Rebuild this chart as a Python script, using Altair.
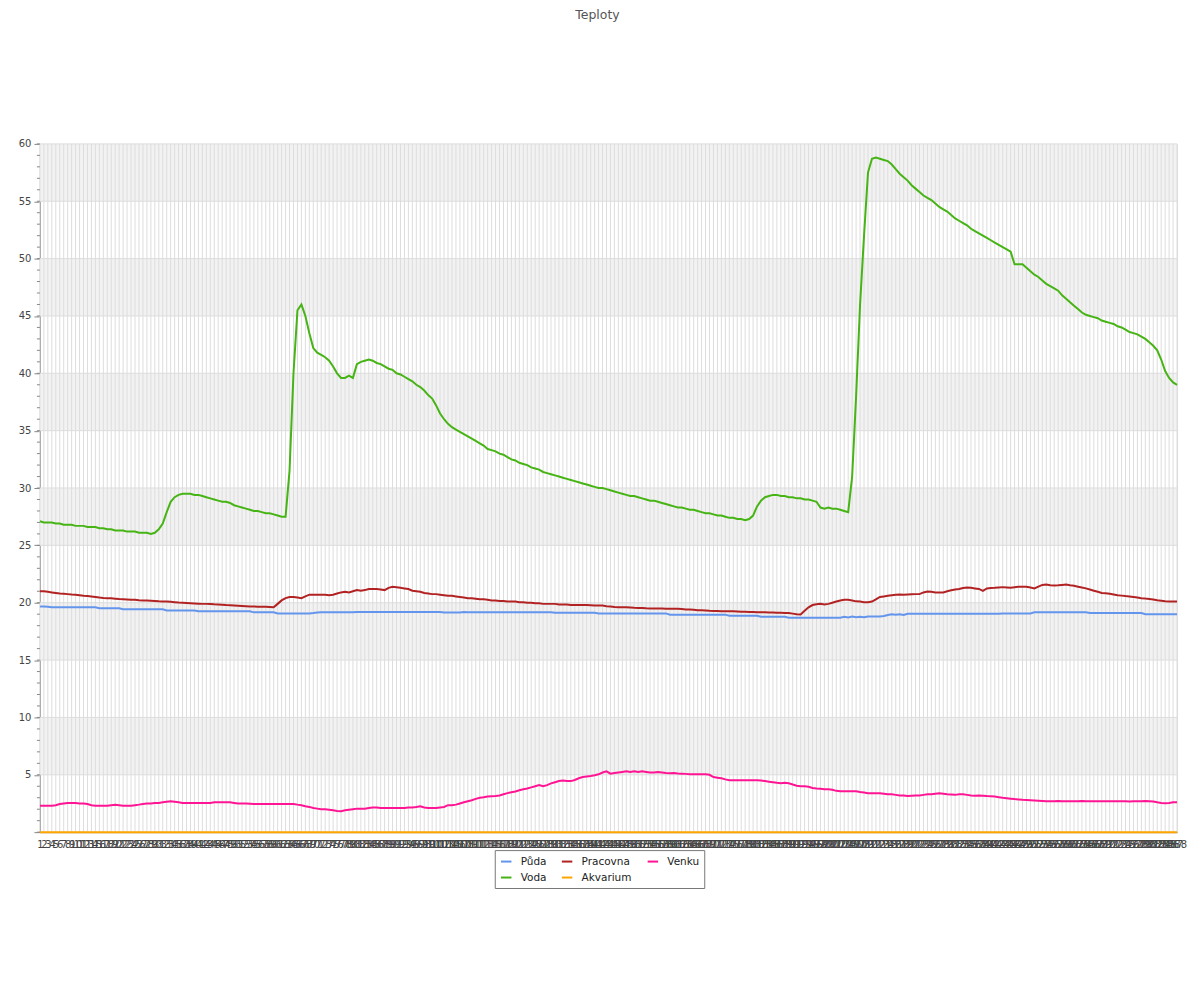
import altair as alt
import pandas as pd

# ---------------- data ----------------
IDX = list(range(1, 289))

PUDA = [
    19.68, 19.68, 19.65, 19.6, 19.6, 19.6, 19.6, 19.6, 19.6, 19.6,
    19.6, 19.6, 19.6, 19.6, 19.6, 19.52, 19.52, 19.52, 19.52, 19.52,
    19.52, 19.43, 19.43, 19.43, 19.43, 19.43, 19.43, 19.43, 19.43, 19.43,
    19.43, 19.43, 19.33, 19.33, 19.33, 19.33, 19.33, 19.33, 19.33, 19.33,
    19.25, 19.25, 19.25, 19.25, 19.25, 19.25, 19.25, 19.25, 19.25, 19.25,
    19.25, 19.25, 19.25, 19.25, 19.16, 19.16, 19.16, 19.16, 19.16, 19.16,
    19.07, 19.07, 19.07, 19.07, 19.07, 19.07, 19.07, 19.07, 19.07, 19.1,
    19.15, 19.16, 19.16, 19.16, 19.16, 19.16, 19.16, 19.16, 19.16, 19.16,
    19.2, 19.2, 19.2, 19.2, 19.2, 19.2, 19.2, 19.2, 19.2, 19.2,
    19.2, 19.2, 19.2, 19.2, 19.2, 19.2, 19.2, 19.2, 19.2, 19.2,
    19.2, 19.2, 19.15, 19.15, 19.15, 19.15, 19.15, 19.2, 19.16, 19.16,
    19.16, 19.16, 19.16, 19.16, 19.16, 19.16, 19.16, 19.16, 19.16, 19.16,
    19.16, 19.16, 19.16, 19.16, 19.16, 19.16, 19.16, 19.16, 19.16, 19.16,
    19.12, 19.12, 19.12, 19.12, 19.12, 19.12, 19.12, 19.12, 19.12, 19.12,
    19.12, 19.07, 19.07, 19.07, 19.07, 19.07, 19.07, 19.07, 19.07, 19.07,
    19.07, 19.07, 19.07, 19.07, 19.07, 19.07, 19.07, 19.07, 19.07, 18.96,
    18.96, 18.96, 18.96, 18.96, 18.96, 18.96, 18.96, 18.96, 18.96, 18.96,
    18.96, 18.96, 18.96, 18.96, 18.87, 18.87, 18.87, 18.87, 18.87, 18.87,
    18.87, 18.87, 18.78, 18.78, 18.78, 18.78, 18.78, 18.78, 18.78, 18.7,
    18.7, 18.7, 18.7, 18.7, 18.7, 18.7, 18.7, 18.7, 18.7, 18.7,
    18.7, 18.7, 18.7, 18.78, 18.72, 18.8, 18.74, 18.78, 18.74, 18.8,
    18.81, 18.81, 18.81, 18.85, 18.93, 19.0, 18.95, 19.0, 18.93, 19.04,
    19.04, 19.04, 19.04, 19.04, 19.04, 19.04, 19.04, 19.04, 19.04, 19.04,
    19.04, 19.04, 19.04, 19.04, 19.04, 19.04, 19.04, 19.04, 19.04, 19.04,
    19.04, 19.04, 19.04, 19.07, 19.07, 19.07, 19.07, 19.07, 19.07, 19.07,
    19.07, 19.16, 19.16, 19.16, 19.16, 19.16, 19.16, 19.16, 19.16, 19.16,
    19.16, 19.16, 19.16, 19.16, 19.16, 19.1, 19.1, 19.1, 19.1, 19.1,
    19.1, 19.1, 19.1, 19.1, 19.1, 19.1, 19.1, 19.1, 19.1, 19.0,
    19.0, 19.0, 19.0, 19.0, 19.0, 19.0, 19.0, 19.0,
]

VODA = [
    27.1, 27.0, 27.0, 27.0, 26.9, 26.9, 26.8, 26.8, 26.8, 26.7,
    26.7, 26.7, 26.6, 26.6, 26.6, 26.5, 26.5, 26.4, 26.4, 26.3,
    26.3, 26.3, 26.2, 26.2, 26.2, 26.1, 26.1, 26.1, 26.0, 26.1,
    26.4, 26.9, 27.9, 28.8, 29.2, 29.4, 29.5, 29.5, 29.5, 29.4,
    29.4, 29.3, 29.2, 29.1, 29.0, 28.9, 28.8, 28.8, 28.7, 28.5,
    28.4, 28.3, 28.2, 28.1, 28.0, 28.0, 27.9, 27.8, 27.8, 27.7,
    27.6, 27.5, 27.5, 31.5, 40.0, 45.5, 46.0, 45.0, 43.5, 42.2,
    41.8, 41.6, 41.4, 41.1, 40.6, 40.0, 39.6, 39.6, 39.8, 39.6,
    40.8, 41.0, 41.1, 41.2, 41.1, 40.9, 40.8, 40.6, 40.4, 40.3,
    40.0, 39.9, 39.7, 39.5, 39.3, 39.0, 38.8, 38.5, 38.1, 37.8,
    37.2, 36.5, 36.0, 35.6, 35.3, 35.1, 34.9, 34.7, 34.5, 34.3,
    34.1, 33.9, 33.7, 33.4, 33.3, 33.2, 33.0, 32.9, 32.7, 32.5,
    32.4, 32.2, 32.1, 32.0, 31.8, 31.7, 31.6, 31.4, 31.3, 31.2,
    31.1, 31.0, 30.9, 30.8, 30.7, 30.6, 30.5, 30.4, 30.3, 30.2,
    30.1, 30.0, 30.0, 29.9, 29.8, 29.7, 29.6, 29.5, 29.4, 29.3,
    29.3, 29.2, 29.1, 29.0, 28.9, 28.9, 28.8, 28.7, 28.6, 28.5,
    28.4, 28.3, 28.3, 28.2, 28.1, 28.1, 28.0, 27.9, 27.8, 27.8,
    27.7, 27.6, 27.6, 27.5, 27.4, 27.4, 27.3, 27.3, 27.2, 27.3,
    27.6, 28.4, 28.9, 29.2, 29.3, 29.4, 29.4, 29.3, 29.3, 29.2,
    29.2, 29.1, 29.1, 29.0, 29.0, 28.9, 28.8, 28.3, 28.2, 28.3,
    28.2, 28.2, 28.1, 28.0, 27.9, 31.0, 38.0, 46.0, 52.0, 57.5,
    58.7, 58.8, 58.7, 58.6, 58.5, 58.2, 57.8, 57.4, 57.1, 56.8,
    56.4, 56.1, 55.8, 55.5, 55.3, 55.1, 54.8, 54.5, 54.3, 54.1,
    53.8, 53.5, 53.3, 53.1, 52.9, 52.6, 52.4, 52.2, 52.0, 51.8,
    51.6, 51.4, 51.2, 51.0, 50.8, 50.6, 49.5, 49.5, 49.5, 49.2,
    48.9, 48.6, 48.4, 48.1, 47.8, 47.6, 47.4, 47.2, 46.8, 46.5,
    46.2, 45.9, 45.6, 45.3, 45.1, 45.0, 44.9, 44.8, 44.6, 44.5,
    44.4, 44.3, 44.1, 44.0, 43.8, 43.6, 43.5, 43.4, 43.2, 43.0,
    42.7, 42.4, 42.0, 41.2, 40.2, 39.6, 39.2, 39.0,
]

PRACOVNA = [
    21.0, 21.0, 20.95, 20.9, 20.85, 20.8, 20.78, 20.75, 20.72, 20.7,
    20.65, 20.6, 20.58, 20.55, 20.5, 20.45, 20.42, 20.4, 20.38, 20.35,
    20.32, 20.3, 20.28, 20.25, 20.25, 20.22, 20.2, 20.2, 20.18, 20.15,
    20.12, 20.1, 20.1, 20.08, 20.05, 20.02, 20.0, 19.98, 19.96, 19.94,
    19.92, 19.9, 19.9, 19.88, 19.86, 19.85, 19.83, 19.8, 19.78, 19.76,
    19.74, 19.72, 19.7, 19.68, 19.68, 19.66, 19.65, 19.64, 19.63, 19.6,
    19.9, 20.2, 20.4, 20.5, 20.5, 20.45, 20.4, 20.55, 20.7, 20.7,
    20.7, 20.7, 20.7, 20.65, 20.7, 20.8, 20.9, 20.95, 20.9, 21.0,
    21.1, 21.05, 21.1, 21.2, 21.2, 21.2, 21.15, 21.1, 21.3, 21.4,
    21.35, 21.3, 21.25, 21.2, 21.05, 21.0, 20.95, 20.85, 20.8, 20.75,
    20.75, 20.7, 20.65, 20.6, 20.6, 20.55, 20.5, 20.45, 20.4, 20.4,
    20.35, 20.3, 20.3, 20.25, 20.2, 20.2, 20.15, 20.15, 20.1, 20.1,
    20.1, 20.05, 20.05, 20.0, 20.0, 19.95, 19.95, 19.9, 19.9, 19.9,
    19.9, 19.85, 19.85, 19.85, 19.8, 19.8, 19.8, 19.8, 19.8, 19.78,
    19.76, 19.76, 19.75, 19.7, 19.68, 19.62, 19.6, 19.6, 19.6, 19.58,
    19.56, 19.55, 19.55, 19.52, 19.5, 19.5, 19.5, 19.5, 19.48, 19.48,
    19.48, 19.48, 19.45, 19.42, 19.4, 19.38, 19.35, 19.35, 19.33, 19.3,
    19.28, 19.27, 19.26, 19.25, 19.25, 19.25, 19.24, 19.22, 19.22, 19.2,
    19.2, 19.18, 19.17, 19.16, 19.15, 19.14, 19.13, 19.12, 19.1, 19.1,
    19.05, 19.0, 18.98, 19.3, 19.6, 19.8, 19.87, 19.9, 19.85, 19.9,
    20.0, 20.1, 20.2, 20.25, 20.26, 20.2, 20.12, 20.1, 20.05, 20.04,
    20.1, 20.3, 20.5, 20.55, 20.6, 20.65, 20.7, 20.72, 20.7, 20.72,
    20.74, 20.75, 20.75, 20.9, 20.98, 20.95, 20.9, 20.9, 20.9, 21.0,
    21.08, 21.15, 21.2, 21.28, 21.33, 21.3, 21.25, 21.2, 21.04, 21.25,
    21.28, 21.3, 21.33, 21.36, 21.33, 21.3, 21.35, 21.4, 21.4, 21.4,
    21.33, 21.25, 21.4, 21.55, 21.58, 21.52, 21.5, 21.52, 21.55, 21.58,
    21.52, 21.48, 21.4, 21.32, 21.25, 21.15, 21.05, 20.95, 20.85, 20.82,
    20.78, 20.72, 20.66, 20.62, 20.58, 20.55, 20.5, 20.45, 20.4, 20.36,
    20.33, 20.28, 20.22, 20.18, 20.12, 20.1, 20.1, 20.1,
]

AKVARIUM = [
    0, 0, 0, 0, 0, 0, 0, 0, 0, 0, 0, 0, 0, 0, 0, 0, 0, 0, 0, 0, 0, 0, 0, 0,
    0, 0, 0, 0, 0, 0, 0, 0, 0, 0, 0, 0, 0, 0, 0, 0, 0, 0, 0, 0, 0, 0, 0, 0,
    0, 0, 0, 0, 0, 0, 0, 0, 0, 0, 0, 0, 0, 0, 0, 0, 0, 0, 0, 0, 0, 0, 0, 0,
    0, 0, 0, 0, 0, 0, 0, 0, 0, 0, 0, 0, 0, 0, 0, 0, 0, 0, 0, 0, 0, 0, 0, 0,
    0, 0, 0, 0, 0, 0, 0, 0, 0, 0, 0, 0, 0, 0, 0, 0, 0, 0, 0, 0, 0, 0, 0, 0,
    0, 0, 0, 0, 0, 0, 0, 0, 0, 0, 0, 0, 0, 0, 0, 0, 0, 0, 0, 0, 0, 0, 0, 0,
    0, 0, 0, 0, 0, 0, 0, 0, 0, 0, 0, 0, 0, 0, 0, 0, 0, 0, 0, 0, 0, 0, 0, 0,
    0, 0, 0, 0, 0, 0, 0, 0, 0, 0, 0, 0, 0, 0, 0, 0, 0, 0, 0, 0, 0, 0, 0, 0,
    0, 0, 0, 0, 0, 0, 0, 0, 0, 0, 0, 0, 0, 0, 0, 0, 0, 0, 0, 0, 0, 0, 0, 0,
    0, 0, 0, 0, 0, 0, 0, 0, 0, 0, 0, 0, 0, 0, 0, 0, 0, 0, 0, 0, 0, 0, 0, 0,
    0, 0, 0, 0, 0, 0, 0, 0, 0, 0, 0, 0, 0, 0, 0, 0, 0, 0, 0, 0, 0, 0, 0, 0,
    0, 0, 0, 0, 0, 0, 0, 0, 0, 0, 0, 0, 0, 0, 0, 0, 0, 0, 0, 0, 0, 0, 0, 0,
]

VENKU = [
    2.3, 2.3, 2.3, 2.3, 2.35, 2.45, 2.5, 2.55, 2.55, 2.55,
    2.5, 2.5, 2.45, 2.35, 2.3, 2.3, 2.3, 2.3, 2.35, 2.38,
    2.35, 2.3, 2.3, 2.3, 2.35, 2.4, 2.46, 2.5, 2.5, 2.55,
    2.55, 2.6, 2.65, 2.7, 2.65, 2.6, 2.55, 2.55, 2.55, 2.55,
    2.55, 2.55, 2.55, 2.55, 2.6, 2.6, 2.6, 2.6, 2.6, 2.55,
    2.5, 2.5, 2.5, 2.48, 2.46, 2.46, 2.46, 2.46, 2.46, 2.46,
    2.46, 2.46, 2.46, 2.46, 2.46, 2.4, 2.35, 2.26, 2.2, 2.1,
    2.05, 2.0, 2.0, 1.95, 1.9, 1.85, 1.83, 1.9, 1.95, 2.0,
    2.05, 2.05, 2.05, 2.1, 2.15, 2.15, 2.1, 2.1, 2.1, 2.1,
    2.1, 2.1, 2.1, 2.15, 2.15, 2.2, 2.26, 2.15, 2.1, 2.1,
    2.1, 2.15, 2.2, 2.35, 2.35, 2.4, 2.5, 2.6, 2.7, 2.78,
    2.9, 3.0, 3.04, 3.1, 3.13, 3.15, 3.2, 3.3, 3.4, 3.48,
    3.55, 3.65, 3.74, 3.8, 3.9, 4.0, 4.1, 4.0, 4.1, 4.25,
    4.35, 4.45, 4.5, 4.45, 4.45, 4.55, 4.7, 4.8, 4.85, 4.9,
    4.96, 5.04, 5.2, 5.3, 5.1, 5.15, 5.2, 5.25, 5.3, 5.25,
    5.3, 5.25, 5.3, 5.25, 5.2, 5.2, 5.25, 5.2, 5.15, 5.13,
    5.15, 5.12, 5.1, 5.08, 5.05, 5.04, 5.05, 5.05, 5.05, 5.0,
    4.8, 4.75, 4.7, 4.6, 4.52, 4.52, 4.52, 4.52, 4.52, 4.52,
    4.52, 4.52, 4.5, 4.45, 4.4, 4.35, 4.3, 4.26, 4.3, 4.26,
    4.15, 4.05, 4.0, 4.0, 3.95, 3.85, 3.8, 3.78, 3.75, 3.74,
    3.7, 3.6, 3.57, 3.57, 3.57, 3.57, 3.57, 3.5, 3.45, 3.4,
    3.4, 3.4, 3.4, 3.35, 3.3, 3.3, 3.25, 3.2, 3.2, 3.15,
    3.18, 3.2, 3.2, 3.25, 3.3, 3.3, 3.35, 3.4, 3.35, 3.3,
    3.28, 3.25, 3.3, 3.3, 3.25, 3.2, 3.18, 3.2, 3.18, 3.15,
    3.13, 3.1, 3.05, 3.0, 2.96, 2.92, 2.88, 2.85, 2.82, 2.8,
    2.78, 2.76, 2.74, 2.72, 2.7, 2.7, 2.7, 2.72, 2.7, 2.7,
    2.7, 2.7, 2.7, 2.72, 2.7, 2.7, 2.7, 2.7, 2.7, 2.7,
    2.7, 2.7, 2.7, 2.7, 2.7, 2.68, 2.7, 2.7, 2.7, 2.72,
    2.7, 2.68, 2.6, 2.55, 2.52, 2.55, 2.6, 2.6,
]

TITLE = "Teploty"

# legend order (fills a 3-column legend column by column) and colours
SERIES = ["Půda", "Voda", "Pracovna", "Akvarium", "Venku"]
COLORS = ["#6495ed", "#46b414", "#b22222", "#ffa500", "#ff1493"]

Y_TICKS = list(range(0, 61, 5))
Y_MINOR = list(range(0, 61))
BAND_STARTS = [5, 15, 25, 35, 45, 55]

# ---------------- build tables ----------------
values = {"Půda": PUDA, "Voda": VODA, "Pracovna": PRACOVNA,
          "Akvarium": AKVARIUM, "Venku": VENKU}
for name, vals in values.items():
    if len(vals) != len(IDX):
        raise ValueError(f"{name}: {len(vals)} values")

rows = []
for name in SERIES:
    for i, v in zip(IDX, values[name]):
        rows.append({"idx": i, "series": name, "value": v})
df = pd.DataFrame(rows)
df_idx = pd.DataFrame({"idx": IDX})
df_bands = pd.DataFrame({"lo": BAND_STARTS, "hi": [b + 5 for b in BAND_STARTS]})
df_grid = pd.DataFrame({"v": Y_TICKS})
df_minor = pd.DataFrame({"m": Y_MINOR})
df_title = pd.DataFrame({"t": [TITLE]})

PLOT_W, PLOT_H = 1140, 690
FONT = "DejaVu Sans"

x_scale = alt.Scale(type="point", padding=0)
x_axis = alt.Axis(title=None, labelAngle=0, labelOverlap=False, labelFontSize=10,
                  labelColor="#444", labelFont=FONT, ticks=False, labelPadding=7,
                  domainColor="#888", grid=False)
y_scale = alt.Scale(domain=[0, 60], nice=False, zero=True)
y_axis = alt.Axis(title=None, values=Y_TICKS,
                  labelExpr="datum.value == 0 ? '' : datum.label",
                  grid=False, tickSize=6, tickColor="#888", domainColor="#888",
                  labelFontSize=10, labelColor="#444", labelPadding=3, labelFont=FONT)

bands = alt.Chart(df_bands).mark_rect(color="#f2f2f2").encode(
    y=alt.Y("lo:Q", scale=y_scale, axis=y_axis),
    y2="hi:Q",
    x=alt.value(0),
    x2=alt.value(PLOT_W),
)

vgrid = alt.Chart(df_idx).mark_rule(color="#dddddd", strokeWidth=1).encode(
    x=alt.X("idx:O", scale=x_scale, axis=x_axis),
)

hgrid = alt.Chart(df_grid).mark_rule(color="#dddddd", strokeWidth=1).encode(
    y=alt.Y("v:Q", scale=y_scale, axis=y_axis),
)

minor = alt.Chart(df_minor).mark_rule(color="#888888", strokeWidth=1).encode(
    y=alt.Y("m:Q", scale=y_scale, axis=y_axis),
    x=alt.value(-3),
    x2=alt.value(0),
)

lines = alt.Chart(df).mark_line(strokeWidth=2).encode(
    x=alt.X("idx:O", scale=x_scale, axis=x_axis),
    y=alt.Y("value:Q", scale=y_scale, axis=y_axis),
    color=alt.Color(
        "series:N",
        scale=alt.Scale(domain=SERIES, range=COLORS),
        legend=alt.Legend(
            title=None, orient="none", legendX=456, legendY=708,
            columns=3, symbolType="stroke", symbolStrokeWidth=2, symbolSize=110,
            labelFontSize=10.5, labelFont=FONT, labelColor="#222",
            strokeColor="#777", padding=5, columnPadding=11, rowPadding=4,
            labelOffset=8,
        ),
    ),
)

# chart title, drawn as text above the plot area
title = alt.Chart(df_title).mark_text(
    font=FONT, fontSize=12.5, color="#555", align="center", baseline="alphabetic"
).encode(
    text="t:N",
    x=alt.value(PLOT_W / 2 - 11),
    y=alt.value(-125),
)

chart = alt.layer(bands, vgrid, hgrid, minor, lines, title).properties(
    width=PLOT_W,
    height=PLOT_H,
    autosize=alt.AutoSizeParams(type="none"),
    padding={"left": 32, "top": 135, "right": 15, "bottom": 150},
).configure_view(stroke=None).configure(background="white")

chart.save("out.html", embed_options={"renderer": "svg", "actions": False})
